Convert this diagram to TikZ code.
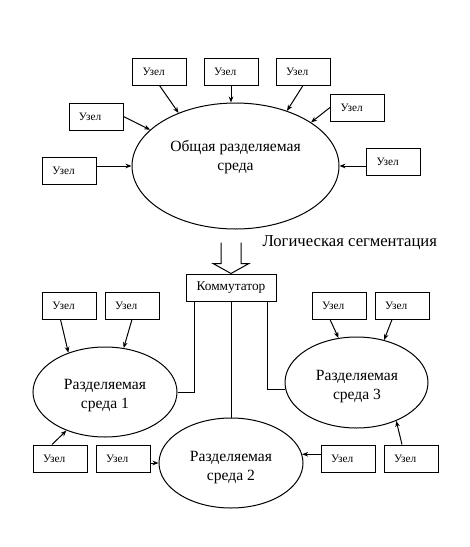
\documentclass[tikz,border=0pt]{standalone}
\usepackage{fontspec}
\setmainfont{Liberation Serif}
\usetikzlibrary{shapes.geometric,arrows.meta,calc}
\begin{document}
\begin{tikzpicture}[x=0.75pt,y=-0.75pt, line width=0.75pt,
 uzel/.style={draw, font=\fontsize{8.5}{10}\selectfont, text width=25.5pt, inner xsep=7.5pt, inner ysep=0pt, minimum height=20.25pt, align=left},
 sreda/.style={draw, ellipse, inner sep=0pt},
 lbl/.style={font=\fontsize{11.7}{14.25}\selectfont, align=center, inner sep=0pt},
 arr/.style={-{Stealth[length=4.5pt,width=3.5pt]}}]
\useasboundingbox (0,0) rectangle (470,547);
% main medium
\node[sreda, minimum width=155.25pt, minimum height=94.5pt] (E0) at (235.5,166) {};
\node[lbl] (E0t) at (235.5,157.5) {Общая разделяемая\\среда};
% top nodes
\node[uzel] (T1) at (159.5,71.5) {Узел};
\node[uzel] (T2) at (231,71.5) {Узел};
\node[uzel] (T3) at (303,71.5) {Узел};
\node[uzel] (T4) at (357.5,107.5) {Узел};
\node[uzel] (T5) at (393.5,161.5) {Узел};
\node[uzel] (TL1) at (96,116.5) {Узел};
\node[uzel] (TL2) at (69.5,170.5) {Узел};
\draw[arr] (T1.south) -- (E0.137.8);
\draw[arr] (T2.south) -- (T2.south |- E0.north);
\draw[arr] (T3.south) -- (E0.47.4);
\draw[arr] (T4.west) -- (E0.30.1);
\draw[arr] (T5.west |- E0.east) -- (E0.east);
\draw[arr] (TL1.east) -- (E0.157.4);
\draw[arr] (TL2.east |- E0.west) -- (E0.west);
% switch
\node[draw, font=\fontsize{10}{12}\selectfont, minimum width=67.5pt, minimum height=20.25pt, inner sep=0pt] (K) at (231,287.5) {Коммутатор};
\draw ($(K.north)+(-10,-31)$) -- ($(K.north)+(-10,-10)$) -- ($(K.north)+(-18,-10)$) -- (K.north)
  -- ($(K.north)+(18,-10)$) -- ($(K.north)+(10,-10)$) -- ($(K.north)+(10,-31)$);
\node[lbl, font=\fontsize{12.5}{15}\selectfont, anchor=west] (LS) at (262,243) {Логическая сегментация};
% segments
\node[sreda, minimum width=108pt, minimum height=67.5pt] (E1) at (105,392) {};
\node[lbl] (E1t) at (105,395.5) {Разделяемая\\среда 1};
\node[sreda, minimum width=108pt, minimum height=67.5pt] (E2) at (231,463) {};
\node[lbl] (E2t) at (231,467.5) {Разделяемая\\среда 2};
\node[sreda, minimum width=107.25pt, minimum height=68.25pt] (E3) at (356.5,382.5) {};
\node[lbl] (E3t) at (357,386.5) {Разделяемая\\среда 3};
\draw ($(K.south west)+(9,0)$) |- (E1.east);
\draw (K.south) -- (E2.north);
\draw ($(K.south east)+(-9,0)$) |- (E3.186.9);
% lower nodes
\node[uzel] (L1) at (69.5,305.5) {Узел};
\node[uzel] (L2) at (132,305.5) {Узел};
\node[uzel] (R1) at (339,305.5) {Узел};
\node[uzel] (R2) at (402,305.5) {Узел};
\node[uzel] (B1) at (60,458.5) {Узел};
\node[uzel] (B2) at (123,458.5) {Узел};
\node[uzel] (B3) at (348,458.5) {Узел};
\node[uzel] (B4) at (411,458.5) {Узел};
\draw[arr] ($(L1.south)+(-9,0)$) -- (E1.133.5);
\draw[arr] (L2.south) -- (E1.67.6);
\draw[arr] ($(R1.south)+(-9,0)$) -- (E3.112);
\draw[arr] ($(R2.south)+(-10,0)$) -- (E3.57);
\draw[arr] ($(B1.north)+(-8,0)$) -- (E1.225);
\draw[arr] (B2.east |- E2.west) -- (E2.west);
\draw[arr] (B3.west |- E2.7.3) -- (E2.7.3);
\draw[arr] ($(B4.north)+(-9,0)$) -- (E3.-44.2);
\end{tikzpicture}
\end{document}
